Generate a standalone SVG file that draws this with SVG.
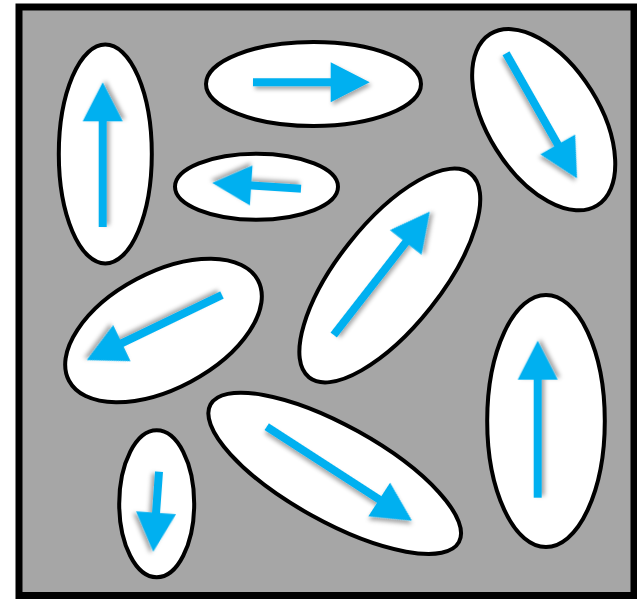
<svg xmlns="http://www.w3.org/2000/svg" width="637" height="599" viewBox="0 0 637 599">
  <defs>
    <filter id="shadow" x="-20%" y="-20%" width="140%" height="140%">
      <feDropShadow dx="2" dy="3" stdDeviation="2" flood-color="#000" flood-opacity="0.35"/>
    </filter>
  </defs>
  <style>
    .frame { fill: #a6a6a6; stroke: #000; stroke-width: 7; }
    .cell { fill: #fff; stroke: #000; stroke-width: 4; }
    .arrow { fill: #00b0f0; filter: url(#shadow); }
  </style>
  <rect class="frame" x="19" y="7" width="615" height="588.5"/>

  <g id="e1">
    <ellipse class="cell" cx="105.3" cy="154" rx="46.5" ry="109.5"/>
    <path class="arrow" transform="translate(102.7,227) rotate(-90)" d="M0,-4 H105.7 V-20 L144.7,0 L105.7,20 V4 H0 Z"/>
  </g>
  <g id="e2">
    <ellipse class="cell" cx="313.5" cy="84" rx="107.5" ry="42"/>
    <path class="arrow" transform="translate(253,82.3) rotate(0)" d="M0,-4 H77.7 V-20 L116.7,0 L77.7,20 V4 H0 Z"/>
  </g>
  <g id="e3">
    <ellipse class="cell" cx="256.5" cy="186.7" rx="81.5" ry="33"/>
    <path class="arrow" transform="translate(301,188.7) rotate(183.7)" d="M0,-4 H49.9 V-20 L88.9,0 L49.9,20 V4 H0 Z"/>
  </g>
  <g id="e4">
    <ellipse class="cell" cx="543.7" cy="119.7" rx="101" ry="56" transform="rotate(58 543.7 119.7)"/>
    <path class="arrow" transform="translate(506,53.3) rotate(60.4)" d="M0,-4 H104.8 V-20 L143.8,0 L104.8,20 V4 H0 Z"/>
  </g>
  <g id="e5">
    <ellipse class="cell" cx="389.8" cy="275.5" rx="130" ry="52" transform="rotate(-51.6 389.8 275.5)"/>
    <path class="arrow" transform="translate(333.7,335) rotate(-52.1)" d="M0,-4 H117.3 V-20 L156.3,0 L117.3,20 V4 H0 Z"/>
  </g>
  <g id="e6">
    <ellipse class="cell" cx="163.5" cy="330.5" rx="107" ry="58" transform="rotate(-28 163.5 330.5)"/>
    <path class="arrow" transform="translate(222,295) rotate(154.3)" d="M0,-4 H111.1 V-20 L150.1,0 L111.1,20 V4 H0 Z"/>
  </g>
  <g id="e7">
    <ellipse class="cell" cx="334.7" cy="473.3" rx="142" ry="48" transform="rotate(29 334.7 473.3)"/>
    <path class="arrow" transform="translate(266.7,426.7) rotate(32.9)" d="M0,-4 H134 V-20 L173,0 L134,20 V4 H0 Z"/>
  </g>
  <g id="e8">
    <ellipse class="cell" cx="156.7" cy="503.8" rx="37.5" ry="73.5"/>
    <path class="arrow" transform="translate(159,471.7) rotate(94.1)" d="M0,-4 H41.2 V-20 L80.2,0 L41.2,20 V4 H0 Z"/>
  </g>
  <g id="e9">
    <ellipse class="cell" cx="546" cy="421" rx="58.8" ry="126"/>
    <path class="arrow" transform="translate(537.7,497.7) rotate(-90)" d="M0,-4 H118 V-20 L157,0 L118,20 V4 H0 Z"/>
  </g>
</svg>
